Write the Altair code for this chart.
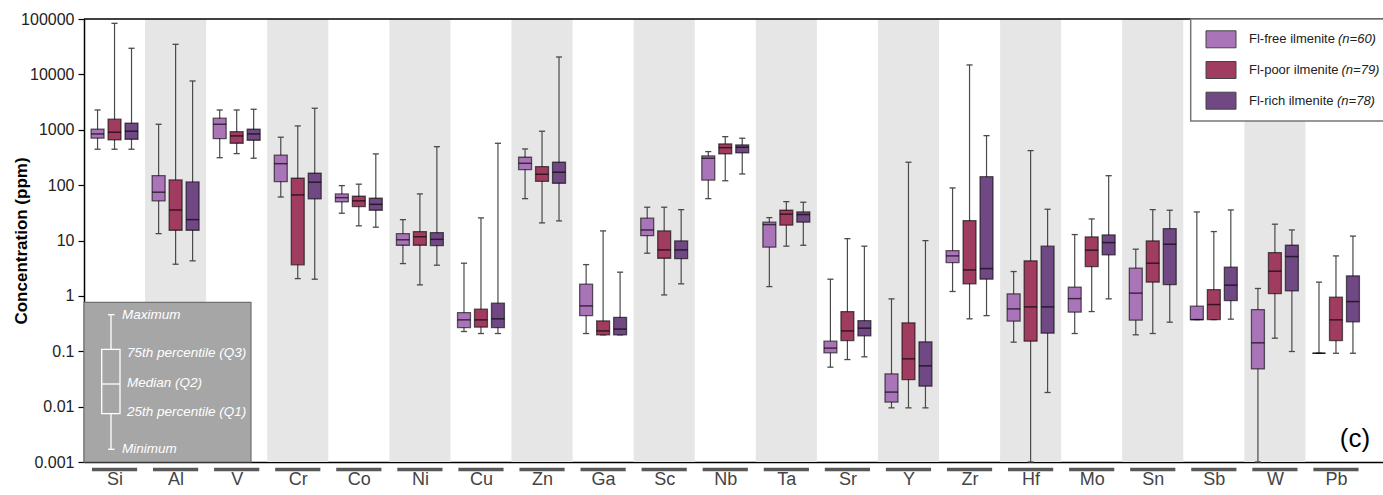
import altair as alt
import pandas as pd

# ---------------- data ----------------
elements = ["Si", "Al", "V", "Cr", "Co", "Ni", "Cu", "Zn", "Ga", "Sc", "Nb",
            "Ta", "Sr", "Y", "Zr", "Hf", "Mo", "Sn", "Sb", "W", "Pb"]
groups = ["Fl-free ilmenite", "Fl-poor ilmenite", "Fl-rich ilmenite"]
group_n = ["(n=60)", "(n=79)", "(n=78)"]
colors = ["#aa74b8", "#a03c60", "#704884"]

free_min = [445, 13.3, 313, 61, 31.1, 3.83, 0.227, 57, 0.209, 5.9, 57, 1.47, 0.0516, 0.0095, 1.2, 0.146, 0.209, 0.198, 0.373, 0.001, 0.092]
free_q1 = [703, 52, 690, 116, 49.8, 8.2, 0.268, 191, 0.44, 12.2, 123, 7.57, 0.0936, 0.0121, 3.99, 0.349, 0.508, 0.364, 0.373, 0.048, 0.092]
free_med = [840, 74.5, 1256, 244, 59.4, 10.3, 0.369, 248, 0.659, 15.5, 306, 19.4, 0.114, 0.0183, 5.27, 0.582, 0.893, 1.12, 0.373, 0.142, 0.092]
free_q3 = [1030, 148, 1615, 347, 69.4, 13.3, 0.50, 319, 1.63, 25.3, 337, 21.4, 0.152, 0.039, 6.58, 1.09, 1.44, 3.16, 0.652, 0.566, 0.092]
free_max = [2275, 1256, 2275, 733, 98, 23.8, 3.89, 450, 3.67, 39.9, 403, 25.9, 2.0, 0.883, 89, 2.75, 12.8, 6.97, 32.8, 1.36, 1.77]

poor_min = [445, 3.73, 371, 2.05, 18.4, 1.58, 0.209, 20.8, 0.198, 1.04, 120, 7.9, 0.0708, 0.0095, 0.385, 0.001, 0.521, 0.209, 0.373, 0.172, 0.092]
poor_q1 = [655, 15.3, 570, 3.63, 41, 8.2, 0.272, 117, 0.198, 4.78, 366, 18.9, 0.156, 0.0308, 1.65, 0.152, 3.38, 1.77, 0.373, 1.10, 0.156]
poor_med = [902, 35.6, 773, 66.5, 52, 11.7, 0.369, 157, 0.233, 6.76, 475, 29.9, 0.233, 0.073, 2.94, 0.633, 6.68, 3.89, 0.697, 2.79, 0.369]
poor_q3 = [1550, 124, 925, 133, 63, 14.5, 0.575, 216, 0.354, 14.9, 555, 35.2, 0.521, 0.326, 22.9, 4.29, 11.6, 9.84, 1.30, 6.05, 0.946]
poor_max = [83600, 34900, 2275, 1172, 104, 69.4, 25.6, 940, 14.9, 39.9, 750, 50.3, 10.8, 259, 14800, 420, 24.5, 36.1, 14.5, 19.7, 5.27]

rich_min = [445, 4.29, 306, 2.0, 17.4, 3.58, 0.209, 22.6, 0.198, 1.65, 159, 8.2, 0.0793, 0.0095, 0.44, 0.018, 0.883, 0.335, 0.38, 0.0989, 0.092]
rich_q1 = [673, 15.3, 646, 56.4, 35.2, 8.1, 0.268, 108, 0.198, 4.7, 381, 21.4, 0.19, 0.0234, 2.0, 0.212, 5.5, 1.6, 0.822, 1.23, 0.34]
rich_med = [940, 23.8, 840, 113, 45, 10.5, 0.385, 171, 0.251, 6.76, 483, 29.4, 0.261, 0.0545, 3.11, 0.633, 9.17, 8.57, 1.56, 5.13, 0.789]
rich_q3 = [1310, 114, 1020, 164, 58, 13.9, 0.738, 259, 0.41, 9.84, 532, 32.8, 0.358, 0.148, 142, 7.9, 12.6, 16.4, 3.3, 8.2, 2.3]
rich_max = [29600, 7600, 2344, 2444, 366, 495, 570, 20600, 2.68, 36.1, 703, 49.1, 7.9, 9.95, 782, 36.7, 148, 35.2, 35.6, 15.5, 12.0]

y_ticks = [0.001, 0.01, 0.1, 1, 10, 100, 1000, 10000, 100000]
inset_labels = ["Maximum", "75th percentile (Q3)", "Median (Q2)", "25th percentile (Q1)", "Minimum"]

stats = [
    (free_min, free_q1, free_med, free_q3, free_max),
    (poor_min, poor_q1, poor_med, poor_q3, poor_max),
    (rich_min, rich_q1, rich_med, rich_q3, rich_max),
]
rows = []
for g, name in enumerate(groups):
    mn, q1, md, q3, mx = stats[g]
    for i, el in enumerate(elements):
        rows.append(dict(element=el, idx=i, g=g, group=name, vmin=mn[i], q1=q1[i],
                         med=md[i], q3=q3[i], vmax=mx[i]))
df = pd.DataFrame(rows)
df_el = pd.DataFrame({"idx": list(range(len(elements))), "element": elements})
df_band = df_el[df_el["idx"] % 2 == 1]
one = pd.DataFrame({"a": [0]})

# ---------------- layout ----------------
W, H = 1299, 443
FONT = "Liberation Sans"
OFF, HALF, CAP = 0.278, 0.106, 0.05

xscale = alt.Scale(domain=[-0.5, 20.77], nice=False, zero=False)
yscale = alt.Scale(type="log", domain=[0.001, 100000], nice=False)
label_expr = "[" + ",".join(f"'{e}'" for e in elements) + "][datum.value]"
xaxis = alt.Axis(values=list(range(len(elements))), labelExpr=label_expr, ticks=False,
                 grid=False, title=None, domainColor="black", domainWidth=1.5,
                 labelFontSize=18, labelColor="#444444", labelPadding=8, labelFont=FONT,
                 labelOverlap=False, labelFlush=False)
yaxis = alt.Axis(values=y_ticks, format="~g", grid=False, tickSize=6, tickColor="black",
                 tickWidth=1.2, domainColor="black", domainWidth=1.5, labelFontSize=16,
                 labelColor="#222222", labelFont=FONT, labelPadding=4,
                 title="Concentration (ppm)", titleFontSize=17, titleFontWeight="bold",
                 titleFont=FONT, titleColor="black", titleX=-58, titleY=H / 2,
                 titleBaseline="alphabetic")


def X(field):
    return alt.X(field, type="quantitative", scale=xscale, axis=xaxis)


def Y(field):
    return alt.Y(field, type="quantitative", scale=yscale, axis=yaxis)


base = alt.Chart(df).transform_calculate(
    pos=f"datum.idx + (datum.g - 1) * {OFF}"
).transform_calculate(
    xl=f"datum.pos - {HALF}", xr=f"datum.pos + {HALF}",
    cl=f"datum.pos - {CAP}", cr=f"datum.pos + {CAP}"
)

bands = alt.Chart(df_band).transform_calculate(
    lo="datum.idx - 0.5", hi="datum.idx + 0.5"
).mark_rect(color="#e6e6e6").encode(x=X("lo"), x2="hi", y=alt.value(0), y2=alt.value(H))

whiskers = base.mark_rule(color="#4a4a4a", strokeWidth=1.2).encode(
    x=X("pos"), y=Y("vmin"), y2="vmax")
cap_hi = base.mark_rule(color="#4a4a4a", strokeWidth=1.3).encode(x=X("cl"), x2="cr", y=Y("vmax"))
cap_lo = base.mark_rule(color="#4a4a4a", strokeWidth=1.3).encode(x=X("cl"), x2="cr", y=Y("vmin"))
boxes = base.mark_rect(stroke="black", strokeOpacity=0.6, strokeWidth=1.3).encode(
    x=X("xl"), x2="xr", y=Y("q1"), y2="q3",
    fill=alt.Fill("group:N", scale=alt.Scale(domain=groups, range=colors), legend=None))
medians = base.mark_rule(color="black", opacity=0.65, strokeWidth=1.5).encode(
    x=X("xl"), x2="xr", y=Y("med"))

under_bars = alt.Chart(df_el).transform_calculate(
    lo="datum.idx - 0.37", hi="datum.idx + 0.37"
).mark_rule(color="#585858", strokeWidth=3.5).encode(x=X("lo"), x2="hi", y=alt.value(H + 7.5))

top_line = alt.Chart(one).mark_rule(color="black", strokeWidth=1.5).encode(
    x=alt.value(0), x2=alt.value(W), y=alt.value(0))

# ---- inset explanation box ----
inset = [
    alt.Chart(one).mark_rect(fill="#a6a6a6", stroke="#707070", strokeWidth=1.2).encode(
        x=alt.value(0), x2=alt.value(167), y=alt.value(283.3), y2=alt.value(H)),
    alt.Chart(one).mark_rule(color="white", strokeWidth=1.3).encode(
        x=alt.value(27), y=alt.value(295.7), y2=alt.value(330.3)),
    alt.Chart(one).mark_rule(color="white", strokeWidth=1.3).encode(
        x=alt.value(27), y=alt.value(394.7), y2=alt.value(430.3)),
    alt.Chart(one).mark_rule(color="white", strokeWidth=1.3).encode(
        x=alt.value(24), x2=alt.value(30.5), y=alt.value(295.7)),
    alt.Chart(one).mark_rule(color="white", strokeWidth=1.3).encode(
        x=alt.value(24), x2=alt.value(30.5), y=alt.value(430.3)),
    alt.Chart(one).mark_rect(fillOpacity=0, stroke="white", strokeWidth=1.3).encode(
        x=alt.value(17.7), x2=alt.value(36), y=alt.value(330.3), y2=alt.value(394.7)),
    alt.Chart(one).mark_rule(color="white", strokeWidth=1.3).encode(
        x=alt.value(17.7), x2=alt.value(36), y=alt.value(365)),
]
inset_pos = [(38, 295.7), (43, 333.7), (43, 364.3), (43, 393.3), (38, 430)]
for txt, (tx, ty) in zip(inset_labels, inset_pos):
    inset.append(alt.Chart(one).mark_text(
        align="left", baseline="middle", fontStyle="italic", fontSize=13.5,
        color="white", font=FONT).encode(x=alt.value(tx), y=alt.value(ty), text=alt.value(txt)))

# ---- legend box ----
legend = [alt.Chart(one).mark_rect(fill="white", stroke="#777777", strokeWidth=1.5).encode(
    x=alt.value(1106.7), x2=alt.value(1306), y=alt.value(0), y2=alt.value(102))]
row_y = [20.3, 51, 81.7]
italic_dx = [89, 92.5, 88]
for k in range(3):
    cy = row_y[k]
    legend.append(alt.Chart(one).mark_rect(fill=colors[k], stroke="#444444", strokeWidth=1).encode(
        x=alt.value(1122), x2=alt.value(1152), y=alt.value(cy - 8.5), y2=alt.value(cy + 8.5)))
    legend.append(alt.Chart(one).mark_text(
        align="left", baseline="middle", fontSize=13, color="#222222", font=FONT).encode(
        x=alt.value(1165), y=alt.value(cy), text=alt.value(groups[k])))
    legend.append(alt.Chart(one).mark_text(
        align="left", baseline="middle", fontSize=13, fontStyle="italic", color="#222222",
        font=FONT).encode(x=alt.value(1165 + italic_dx[k]), y=alt.value(cy),
                          text=alt.value(group_n[k])))

panel_label = alt.Chart(one).mark_text(
    align="center", baseline="middle", fontSize=26, color="black", font=FONT).encode(
    x=alt.value(1271), y=alt.value(420), text=alt.value("(c)"))

chart = alt.layer(
    bands, whiskers, cap_hi, cap_lo, boxes, medians, under_bars, top_line,
    *inset, *legend, panel_label
).properties(
    width=W, height=H,
    autosize=alt.AutoSizeParams(type="none"),
    padding={"left": 84, "top": 19, "right": 0, "bottom": 33},
    background="white",
).configure_view(stroke=None)

chart.save("out.html", embed_options={"renderer": "svg", "actions": False})
